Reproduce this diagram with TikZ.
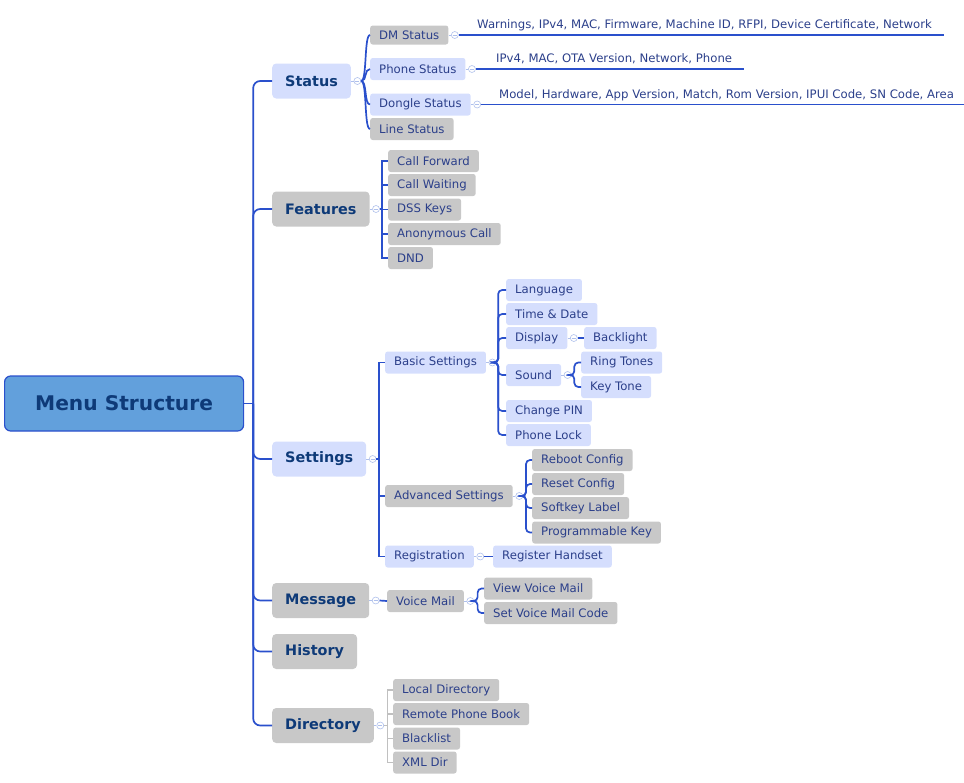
\documentclass[tikz,border=0pt]{standalone}
\usepackage{fontspec}
\setmainfont{DejaVu Sans}
\usetikzlibrary{positioning}
\definecolor{linkblue}{HTML}{2A50CC}
\definecolor{rootfill}{HTML}{62A0DC}
\definecolor{lightfill}{HTML}{D5DEFD}
\definecolor{grayfill}{HTML}{C8C8C8}
\definecolor{toptext}{HTML}{0E3A78}
\definecolor{subtext}{HTML}{2B3F8A}
\definecolor{knobline}{HTML}{AFC0EC}
\definecolor{dirline}{HTML}{C0C0C0}
\begin{document}
\begin{tikzpicture}[x=1pt, y=-1pt,
  every node/.style={anchor=west, text=subtext, font=\fontsize{11.7}{13}\selectfont},
  root/.style={rounded corners=6pt, fill=rootfill, draw=linkblue, line width=1.2pt, text=toptext,
    font=\fontsize{20.2}{24}\selectfont\bfseries, minimum width=239pt, minimum height=55pt},
  topic/.style={rounded corners=4pt, text=toptext, font=\fontsize{14.4}{17}\selectfont\bfseries,
    minimum height=35pt, inner xsep=13pt},
  item/.style={rounded corners=2.5pt, minimum height=22pt, inner xsep=9pt, inner ysep=0pt},
  lb/.style={fill=lightfill}, gr/.style={fill=grayfill},
  info/.style={anchor=south west, inner xsep=12pt, inner ysep=3.5pt, text height=8.5pt, text depth=2.5pt},
  knob/.style={circle, draw=knobline, fill=white, inner sep=0pt, minimum size=7pt, line width=0.6pt,
    path picture={\draw[knobline, line width=0.6pt] ([xshift=-2pt]path picture bounding box.center)
      -- ([xshift=2pt]path picture bounding box.center);}},
  link/.style={draw=linkblue, line width=1.7pt},
  stub/.style={draw=knobline, line width=0.8pt}]

\useasboundingbox (0,0) rectangle (964,782);

% Root and main topics
\node[root] (root) at (4,403.5) {Menu Structure};
\coordinate (hub) at ([xshift=9pt]root.east);

\node[topic, lb] (status) at (272,81) {Status};
\node[topic, gr] (feat) at (272,209) {Features};
\node[topic, lb] (sett) at (272,459) {Settings};
\node[topic, gr] (msg) at (272,600.5) {Message};
\node[topic, gr] (hist) at (272,651.5) {History};
\node[topic, gr] (dir) at (272,725.5) {Directory};

% Status
\node[item, gr, minimum height=19pt] (dm) at (370,35) {DM Status};
\node[item, lb] (phst) at (370,69) {Phone Status};
\node[item, lb] (dgst) at (370,104.5) {Dongle Status};
\node[item, gr] (lnst) at (370,129) {Line Status};

\node[info] (dminfo) at (465,35) {Warnings, IPv4, MAC, Firmware, Machine ID, RFPI, Device Certificate, Network};
\node[info] (phinfo) at (484,69) {IPv4, MAC, OTA Version, Network, Phone};
\node[info] (dginfo) at (487,104.5) {Model, Hardware, App Version, Match, Rom Version, IPUI Code, SN Code, Area};

% Features
\node[item, gr] (cfwd) at (388,161) {Call Forward};
\node[item, gr] (cwait) at (388,185) {Call Waiting};
\node[item, gr] (dss) at (388,209.5) {DSS Keys};
\node[item, gr] (anon) at (388,234) {Anonymous Call};
\node[item, gr] (dnd) at (388,258) {DND};

% Settings
\node[item, lb] (basic) at (385,362.5) {Basic Settings};
\node[item, gr] (adv) at (385,496) {Advanced Settings};
\node[item, lb] (reg) at (385,556.5) {Registration};

\node[item, lb] (lang) at (506,290) {Language};
\node[item, lb] (tdate) at (506,314) {Time \& Date};
\node[item, lb] (disp) at (506,338) {Display};
\node[item, lb] (sound) at (506,375) {Sound};
\node[item, lb] (cpin) at (506,411) {Change PIN};
\node[item, lb] (plock) at (506,435) {Phone Lock};
\node[item, lb] (blight) at (584,338) {Backlight};
\node[item, lb] (ring) at (581,362.5) {Ring Tones};
\node[item, lb] (keyt) at (581,387) {Key Tone};

\node[item, gr] (reboot) at (532,460) {Reboot Config};
\node[item, gr] (reset) at (532,484) {Reset Config};
\node[item, gr] (skey) at (532,508) {Softkey Label};
\node[item, gr] (pkey) at (532,532.5) {Programmable Key};
\node[item, lb] (rhs) at (493,556.5) {Register Handset};

% Message, Directory
\node[item, gr] (vmail) at (387,601) {Voice Mail};
\node[item, gr] (vvm) at (484,588.5) {View Voice Mail};
\node[item, gr] (svm) at (484,613) {Set Voice Mail Code};

\node[item, gr] (ldir) at (393,690) {Local Directory};
\node[item, gr] (rpb) at (393,714) {Remote Phone Book};
\node[item, gr] (blist) at (393,738.5) {Blacklist};
\node[item, gr] (xml) at (393,762.5) {XML Dir};

% Knobs
\foreach \n in {status,feat,sett,msg,dir,dm,phst,dgst,basic,disp,sound,adv,reg,vmail}
  \node[knob, right=2.5pt of \n] (k\n) {};
\foreach \n in {status,feat,sett,msg,dir,dm,phst,dgst,basic,disp,sound,adv,reg,vmail}
  \draw[stub] (\n.east) -- (k\n.west);

% Edges
\draw[link] (root.east) -- (hub);
\foreach \t in {status,feat,sett,msg,hist,dir}
  \draw[link, rounded corners=7pt] (hub) |- (\t.west);

\foreach \c in {dm,phst,dgst,lnst}
  \draw[link] (kstatus.east) .. controls +(6,0) and +(-6,0) .. (\c.west);
\draw[link] (kdm.east) -- (dminfo.south east);
\draw[link] (kphst.east) -- (phinfo.south east);
\draw[link] (kdgst.east) -- (dginfo.south east);

\foreach \c in {cfwd,cwait,dss,anon,dnd}
  \draw[link] (kfeat.east) -- ++(2.5,0) |- (\c.west);

\foreach \c in {basic,adv,reg}
  \draw[link] (ksett.east) -- ++(2.5,0) |- (\c.west);
\foreach \c in {lang,tdate,disp,sound,cpin,plock}
  \draw[link, rounded corners=4pt] (kbasic.east) -- ++(2,0) |- (\c.west);
\draw[link] (kdisp.east) -- (blight.west);
\foreach \c in {ring,keyt}
  \draw[link, rounded corners=4pt] (ksound.east) -- ++(3,0) |- (\c.west);
\foreach \c in {reboot,reset,skey,pkey}
  \draw[link, rounded corners=4pt] (kadv.east) -- ++(3,0) |- (\c.west);
\draw[link] (kreg.east) -- (rhs.west);

\draw[link] (kmsg.east) -- (vmail.west);
\foreach \c in {vvm,svm}
  \draw[link, rounded corners=4pt] (kvmail.east) -- ++(3.5,0) |- (\c.west);

\foreach \c in {ldir,rpb,blist,xml}
  \draw[draw=dirline, line width=1.5pt] (kdir.east) -- ++(3.5,0) |- (\c.west);

\end{tikzpicture}
\end{document}
